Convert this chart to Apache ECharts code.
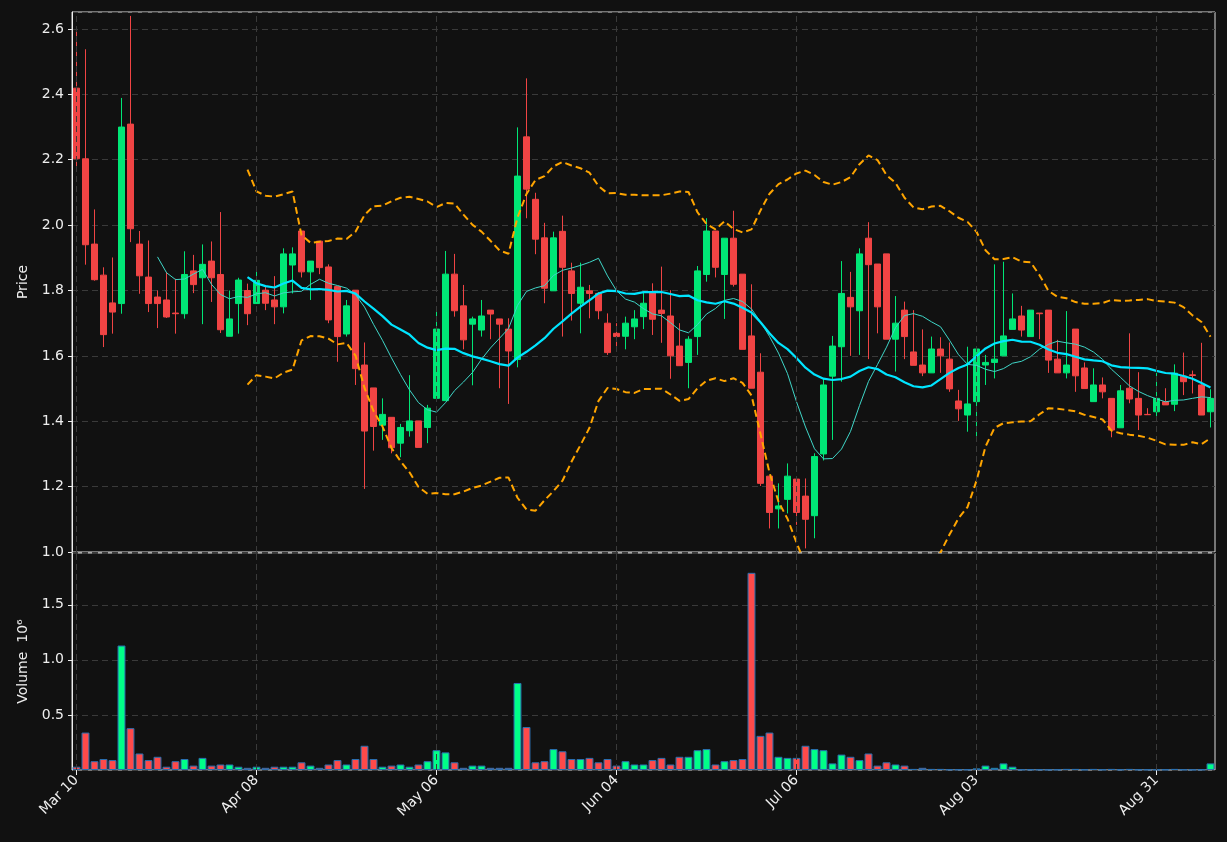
<!DOCTYPE html>
<html><head><meta charset="utf-8">
<script src="https://cdn.jsdelivr.net/npm/echarts@6/dist/echarts.min.js"></script>
<style>html,body{margin:0;background:#111111;}#c{width:1227px;height:842px;}</style>
</head><body><div id="c"></div>
<script>
// OHLC per trading day: [open, high, low, close]
const opens = [2.419,2.203,1.942,1.847,1.762,1.760,2.309,1.942,1.841,1.780,1.771,1.731,1.729,1.860,1.839,1.890,1.849,1.660,1.760,1.800,
1.760,1.801,1.771,1.750,1.878,1.982,1.857,1.951,1.872,1.812,1.667,1.801,1.572,1.502,1.388,1.412,1.333,1.371,1.401,1.381,
1.470,1.463,1.850,1.753,1.697,1.679,1.740,1.713,1.682,1.589,2.270,2.079,1.961,1.799,1.981,1.860,1.761,1.799,1.791,1.700,
1.669,1.660,1.689,1.720,1.793,1.740,1.722,1.630,1.580,1.659,1.849,1.982,1.849,1.960,1.850,1.661,1.550,1.232,1.132,1.161,
1.223,1.171,1.111,1.300,1.538,1.628,1.779,1.738,1.960,1.881,1.912,1.651,1.740,1.612,1.572,1.548,1.621,1.590,1.462,1.419,
1.460,1.572,1.580,1.600,1.681,1.722,1.659,1.731,1.740,1.590,1.548,1.682,1.563,1.460,1.511,1.470,1.380,1.501,1.470,1.421,
1.429,1.460,1.452,1.538,1.542,1.511,1.429];
const highs = [2.591,2.538,2.048,1.871,1.901,2.389,2.640,1.982,1.953,1.800,1.857,1.836,1.920,1.909,1.941,1.950,2.040,1.800,1.839,1.821,
1.869,1.815,1.844,1.929,1.932,1.982,1.890,1.951,1.880,1.812,1.771,1.801,1.641,1.502,1.470,1.412,1.392,1.541,1.401,1.450,
1.737,1.921,1.912,1.817,1.720,1.771,1.740,1.713,1.715,2.299,2.449,2.099,2.007,1.980,2.029,1.885,1.885,1.817,1.795,1.730,
1.700,1.720,1.740,1.796,1.822,1.873,1.801,1.700,1.660,1.875,2.021,1.982,1.960,2.044,1.850,1.819,1.608,1.232,1.210,1.271,
1.223,1.225,1.302,1.531,1.661,1.890,1.857,1.929,2.009,1.881,1.912,1.783,1.766,1.740,1.681,1.659,1.657,1.641,1.496,1.628,
1.621,1.603,1.880,1.888,1.791,1.753,1.740,1.731,1.740,1.649,1.737,1.682,1.580,1.562,1.534,1.470,1.511,1.669,1.550,1.440,
1.548,1.501,1.574,1.610,1.555,1.640,1.498];
const lows = [2.180,1.879,1.830,1.627,1.668,1.729,1.948,1.790,1.734,1.685,1.716,1.668,1.714,1.792,1.697,1.765,1.670,1.660,1.668,1.694,
1.760,1.740,1.697,1.730,1.791,1.840,1.771,1.850,1.700,1.582,1.659,1.511,1.193,1.310,1.343,1.302,1.290,1.353,1.320,1.333,
1.465,1.463,1.720,1.620,1.510,1.659,1.651,1.501,1.453,1.565,2.021,1.911,1.761,1.799,1.659,1.708,1.669,1.715,1.712,1.603,
1.620,1.620,1.651,1.682,1.664,1.640,1.530,1.570,1.501,1.603,1.827,1.840,1.713,1.812,1.620,1.501,1.202,1.072,1.072,1.118,
1.083,1.011,1.042,1.280,1.343,1.521,1.600,1.603,1.590,1.669,1.651,1.552,1.590,1.571,1.538,1.548,1.548,1.490,1.401,1.368,
1.343,1.511,1.531,1.600,1.681,1.659,1.659,1.651,1.548,1.548,1.531,1.490,1.500,1.460,1.470,1.351,1.380,1.455,1.373,1.420,
1.406,1.450,1.431,1.480,1.485,1.419,1.381];
const closes = [2.203,1.940,1.833,1.665,1.734,2.300,1.989,1.845,1.760,1.760,1.719,1.729,1.849,1.818,1.880,1.839,1.680,1.713,1.832,1.729,
1.831,1.761,1.750,1.912,1.912,1.857,1.890,1.870,1.710,1.659,1.753,1.561,1.370,1.384,1.421,1.319,1.381,1.401,1.320,1.440,
1.682,1.850,1.738,1.649,1.713,1.722,1.728,1.697,1.615,2.150,2.110,1.957,1.807,1.961,1.871,1.791,1.810,1.791,1.738,1.610,
1.659,1.700,1.713,1.761,1.712,1.730,1.600,1.570,1.651,1.860,1.982,1.871,1.960,1.819,1.620,1.501,1.210,1.121,1.141,1.232,
1.121,1.100,1.292,1.511,1.630,1.791,1.750,1.912,1.879,1.750,1.651,1.700,1.659,1.571,1.548,1.621,1.600,1.499,1.438,1.453,
1.621,1.580,1.590,1.661,1.713,1.679,1.740,1.729,1.587,1.548,1.572,1.539,1.500,1.511,1.490,1.373,1.493,1.468,1.419,1.420,
1.470,1.450,1.547,1.521,1.540,1.419,1.470];
// volume in millions
const volumes = [0.03,0.34,0.08,0.10,0.09,1.13,0.38,0.15,0.09,0.12,0.03,0.08,0.10,0.04,0.11,0.04,0.05,0.05,0.03,0.02,
0.03,0.02,0.03,0.03,0.03,0.07,0.04,0.02,0.05,0.09,0.05,0.10,0.22,0.10,0.03,0.04,0.05,0.03,0.05,0.08,
0.18,0.16,0.07,0.02,0.04,0.04,0.02,0.02,0.02,0.79,0.39,0.07,0.08,0.19,0.17,0.10,0.10,0.11,0.07,0.10,
0.04,0.08,0.05,0.05,0.09,0.11,0.05,0.12,0.12,0.18,0.19,0.05,0.08,0.09,0.10,1.79,0.31,0.34,0.12,0.11,
0.11,0.22,0.19,0.18,0.06,0.14,0.12,0.09,0.15,0.04,0.07,0.05,0.04,0.01,0.02,0.01,0.01,0.005,0.005,0.005,
0.015,0.04,0.02,0.06,0.03,0.004,0.004,0.004,0.003,0.004,0.01,0.01,0.004,0.01,0.004,0.01,0.004,0.01,0.004,0.004,
0.004,0.004,0.01,0.004,0.003,0.004,0.06];
const tickLabels = ['Mar 10','Apr 08','May 06','Jun 04','Jul 06','Aug 03','Aug 31'];
const tickEvery = 20;

const N = closes.length;
const categories = closes.map((_, i) => String(i));
const UP = '#00e676', DOWN = '#f04444';

function sma(p){return closes.map((_,i)=> i<p-1 ? '-' : closes.slice(i-p+1,i+1).reduce((a,b)=>a+b,0)/p);}
function band(p,k){return closes.map((_,i)=>{ if(i<p-1) return '-'; const s=closes.slice(i-p+1,i+1); const m=s.reduce((a,b)=>a+b,0)/p; const v=s.reduce((a,b)=>a+(b-m)*(b-m),0)/(p-1); return m+k*Math.sqrt(v);});}
const ma10 = sma(10), ma20 = sma(20), bbU = band(20,2), bbL = band(20,-2);
const kdata = closes.map((c,i)=>[opens[i],c,lows[i],highs[i]]);
const vdata = volumes.map((v,i)=>({value:v,itemStyle:{color: closes[i]>=opens[i]?'#00ff88':'#ff4a4a'}}));
const tickIdx = tickLabels.map((_,j)=>j*tickEvery);
const showTick = (i)=> i % tickEvery === 0;

const gridLine = {lineStyle:{color:'#3a3a3a',type:[6,4],width:1}};
const chart = echarts.init(document.getElementById('c'));
chart.setOption({
  backgroundColor:'#111111',
  animation:false,
  grid:[{left:72,right:12,top:12,height:540,show:true,borderColor:'#dddddd',borderWidth:1},
        {left:72,right:12,top:553,height:217,show:true,borderColor:'#dddddd',borderWidth:1}],
  xAxis:[
    {type:'category',gridIndex:0,data:categories,boundaryGap:true,axisLine:{show:false},axisTick:{show:false},axisLabel:{show:false},splitLine:{show:false}},
    {type:'category',gridIndex:1,data:categories,boundaryGap:true,axisLine:{show:false},
     axisTick:{show:true,interval:(i)=>showTick(i),alignWithLabel:true,length:5,lineStyle:{color:'#eeeeee'}},
     axisLabel:{interval:(i)=>showTick(i),rotate:45,color:'#eeeeee',fontSize:14,fontFamily:'DejaVu Sans',margin:8,
       formatter:(v,i)=>tickLabels[Math.round(Number(v)/tickEvery)]||''},splitLine:{show:false}}
  ],
  yAxis:[
    {type:'value',gridIndex:0,min:1.0,max:2.652,interval:0.2,name:'Price',nameLocation:'middle',nameGap:40,nameRotate:90,
     nameTextStyle:{color:'#eeeeee',fontSize:14,fontFamily:'DejaVu Sans'},
     axisLine:{show:true,lineStyle:{color:'#eeeeee'}},axisTick:{show:true,length:4,lineStyle:{color:'#eeeeee'}},
     axisLabel:{color:'#eeeeee',fontSize:14,fontFamily:'DejaVu Sans',formatter:(v)=> v>2.64?'':v.toFixed(1),showMaxLabel:false},splitLine:{show:true,...gridLine}},
    {type:'value',gridIndex:1,min:0,max:1.97,interval:0.5,name:'Volume  10⁶',nameLocation:'middle',nameGap:40,nameRotate:90,
     nameTextStyle:{color:'#eeeeee',fontSize:14,fontFamily:'DejaVu Sans'},
     axisLine:{show:true,lineStyle:{color:'#eeeeee'}},axisTick:{show:true,length:4,lineStyle:{color:'#eeeeee'}},
     axisLabel:{color:'#eeeeee',fontSize:14,fontFamily:'DejaVu Sans',showMinLabel:false,showMaxLabel:false,formatter:(v)=>v.toFixed(1)},splitLine:{show:true,...gridLine}}
  ],
  series:[
    {type:'candlestick',xAxisIndex:0,yAxisIndex:0,data:kdata,barWidth:'62%',
     itemStyle:{color:UP,color0:DOWN,borderColor:UP,borderColor0:DOWN,borderWidth:1},
     markLine:{silent:true,symbol:'none',label:{show:false},lineStyle:{color:'#3a3a3a',type:[6,4],width:1},
       data:tickIdx.map(i=>({xAxis:String(i)}))}},
    {type:'line',xAxisIndex:0,yAxisIndex:0,data:ma10,showSymbol:false,smooth:false,lineStyle:{color:'#3fd6c8',width:1},z:3},
    {type:'line',xAxisIndex:0,yAxisIndex:0,data:ma20,showSymbol:false,lineStyle:{color:'#00e5ff',width:2.2},z:4},
    {type:'line',xAxisIndex:0,yAxisIndex:0,data:bbU,showSymbol:false,lineStyle:{color:'#ffa500',width:2,type:[7,4]},z:4},
    {type:'line',xAxisIndex:0,yAxisIndex:0,data:bbL,showSymbol:false,lineStyle:{color:'#ffa500',width:2,type:[7,4]},z:4},
    {type:'bar',xAxisIndex:1,yAxisIndex:1,data:vdata,barWidth:'88%',itemStyle:{borderColor:'#2a6fb0',borderWidth:1},
     markLine:{silent:true,symbol:'none',label:{show:false},lineStyle:{color:'#3a3a3a',type:[6,4],width:1},
       data:tickIdx.map(i=>({xAxis:String(i)}))}}
  ]
});
</script></body></html>
